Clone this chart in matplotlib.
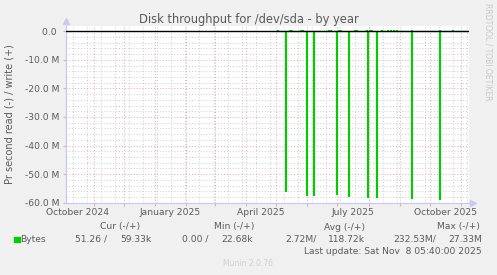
import datetime as dt

import matplotlib
matplotlib.use("Agg")
import matplotlib.pyplot as plt
import numpy as np
import pandas as pd

# time window of the yearly graph
start = dt.datetime(2024, 10, 4, 5, 40)
end = dt.datetime(2025, 11, 8, 5, 40)
data_start = "2025-05-01"

# read spikes (shown negative), in MB/s
read_dates = ["2025-05-10", "2025-05-31", "2025-06-07", "2025-06-30", "2025-07-11",
              "2025-07-30", "2025-08-08", "2025-09-12", "2025-10-10"]
read_mb = [55.8, 57.4, 57.4, 56.9, 57.5, 57.9, 57.9, 58.2, 58.8]

# small write bumps (shown positive), in MB/s
write_dates = ["2025-05-02", "2025-05-14", "2025-05-16", "2025-05-25", "2025-05-27",
               "2025-06-22", "2025-06-24", "2025-07-02", "2025-07-04", "2025-07-17",
               "2025-07-19", "2025-07-29", "2025-08-01", "2025-08-03", "2025-08-13",
               "2025-08-19", "2025-08-22", "2025-08-25", "2025-08-28", "2025-09-12",
               "2025-10-10", "2025-10-23"]
write_mb = [0.5, 0.6, 0.4, 0.6, 0.5, 0.5, 0.4, 0.6, 0.5, 0.4,
            0.5, 0.5, 0.4, 0.5, 0.4, 0.5, 0.6, 0.5, 0.4, 0.5,
            0.5, 0.6]

y_ticks = [0, -10, -20, -30, -40, -50, -60]
y_labels = ["0.0 ", "-10.0 M", "-20.0 M", "-30.0 M", "-40.0 M", "-50.0 M", "-60.0 M"]
x_label_dates = ["2024-10-16", "2025-01-16", "2025-04-16", "2025-07-16", "2025-10-16"]
x_labels = ["October 2024", "January 2025", "April 2025", "July 2025", "October 2025"]

legend_headers = ["Cur (-/+)", "Min (-/+)", "Avg (-/+)", "Max (-/+)"]
legend_values = ["51.26 /", "59.33k", "0.00 /", "22.68k",
                 "2.72M/", "118.72k", "232.53M/", "27.33M"]

# build daily series
days = pd.date_range(data_start, end.date(), freq="D")
read = pd.Series(0.0, index=days)
read.loc[pd.to_datetime(read_dates)] = read_mb
write = pd.Series(0.0, index=days)
write.loc[pd.to_datetime(write_dates)] = write_mb

W, H = 497, 275
TXT = "#5a5a5a"
GREEN = "#00cc00"
MAJ = "#eaa8a8"
MIN = "#cccccc"
AXIS = "#c8c8f4"

fig = plt.figure(figsize=(W / 100, H / 100), dpi=100, facecolor="#f0f0f0")
left, right, top, bottom = 65.8, 468.6, 26, 202.7
ax = fig.add_axes([left / W, 1 - bottom / H, (right - left) / W, (bottom - top) / H])
ax.set_facecolor("white")

# grids
for d in pd.date_range("2024-10-11", end, freq="14D"):
    ax.axvline(d, color=MIN, ls=(0, (1, 2)), lw=0.7, zorder=1)
for yv in np.arange(-58, 2, 2):
    if yv % 10:
        ax.axhline(yv, color=MIN, ls=(0, (1, 2)), lw=0.7, zorder=1)
for d in pd.date_range("2024-11-01", "2025-11-01", freq="MS"):
    ax.axvline(d, color=MAJ, ls=(0, (1, 2)), lw=0.7, zorder=1.5)
for yv in y_ticks:
    ax.axhline(yv, color=MAJ, ls=(0, (1, 2)), lw=0.7, zorder=1.5)

ax.plot(read.index, -read.values, drawstyle="steps-post", color=GREEN, lw=0.8, zorder=3)
ax.plot(write.index, write.values, drawstyle="steps-post", color=GREEN, lw=0.8, zorder=3)
ax.axhline(0, color="black", lw=1.0, zorder=4)

ax.set_xlim(start, end)
ax.set_ylim(-60, 1.85)

ax.set_yticks(y_ticks, y_labels)
ax.set_xticks(pd.date_range("2024-11-01", "2025-11-01", freq="MS"), [])
ax.set_xticks(pd.to_datetime(x_label_dates), x_labels, minor=True)
ax.tick_params(axis="x", which="major", length=2, color=MAJ, width=0.8)
ax.tick_params(axis="x", which="minor", length=0, pad=4, labelsize=6.6, labelcolor=TXT)
ax.tick_params(axis="y", length=2, color=MAJ, width=0.8, pad=2.5, labelsize=6.6, labelcolor=TXT)

for s in ["top", "right"]:
    ax.spines[s].set_visible(False)
for s in ["left", "bottom"]:
    ax.spines[s].set_color(AXIS)
    ax.spines[s].set_linewidth(0.9)
ax.plot([0], [1.03], marker="^", color=AXIS, ms=4, transform=ax.transAxes, clip_on=False)
ax.plot([1.01], [0], marker=">", color=AXIS, ms=4, transform=ax.transAxes, clip_on=False)


def px(x, y):
    return x / W, 1 - y / H


fig.text(*px(249, 20), "Disk throughput for /dev/sda - by year", ha="center", va="center",
         fontsize=8.3, color=TXT)
fig.text(*px(10, 114), "Pr second read (-) / write (+)", rotation=90, ha="center",
         va="center", fontsize=7.0, color=TXT)
fig.text(*px(488, 52), "RRDTOOL / TOBI OETIKER", rotation=-90, ha="center", va="center",
         fontsize=5.5, color="#c8c8c8")

# legend
for hx, h in zip([140, 254, 365, 480], legend_headers):
    fig.text(*px(hx, 227), h, ha="right", va="center", fontsize=6.6, color=TXT)
fig.patches.append(plt.Rectangle(px(14, 242), 5.5 / W, 5.5 / H, transform=fig.transFigure,
                                 color=GREEN, figure=fig))
fig.text(*px(20.5, 239.5), "Bytes", ha="left", va="center", fontsize=6.6, color=TXT)
for vx, v in zip([107, 152, 209, 253, 317, 365, 436, 482], legend_values):
    fig.text(*px(vx, 239.5), v, ha="right", va="center", fontsize=6.6, color=TXT)
fig.text(*px(482, 251), "Last update: Sat Nov  8 05:40:00 2025", ha="right", va="center",
         fontsize=6.6, color=TXT)
fig.text(*px(248, 263), "Munin 2.0.76", ha="center", va="center", fontsize=5.5, color="#cfcfcf")

fig.savefig("out.png", dpi=100, facecolor=fig.get_facecolor())
